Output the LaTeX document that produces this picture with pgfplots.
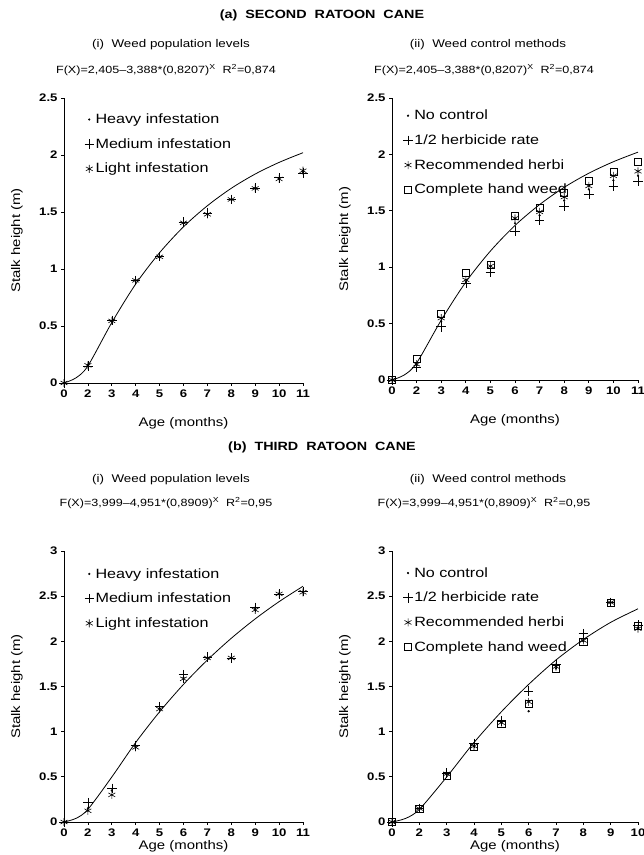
\documentclass[border=0pt]{standalone}
\usepackage{pgfplots}
\pgfplotsset{compat=1.18}
\usepackage{fontspec}
\setmainfont{Liberation Sans}[FakeStretch=1.2]
\pgfplotsset{
  myax/.style={
    scale only axis,
    axis x line*=bottom, axis y line*=left,
    axis line style={black, line width=0.8pt},
    xmin=0, xtick={0,...,10},
    tick align=outside, major tick length=3pt,
    tick style={black, line width=0.7pt},
    ticklabel style={font=\fontsize{11}{12}\selectfont\bfseries},
    /pgf/number format/assume math mode=true,
    xlabel={Age (months)}, ylabel={Stalk height (m)},
    label style={font=\fontsize{12.5}{13}\selectfont},
    legend style={draw=none, fill=none, anchor=north west,
      font=\fontsize{13.5}{13.5}\selectfont, row sep=13.5pt, inner sep=0pt,
      nodes={inner ysep=0pt, inner xsep=1.5pt}},
    legend cell align=left,
    clip=false,
  },
  lefta/.style={ylabel style={at={(axis description cs:-0.197,0.5)}, anchor=center}},
  righta/.style={ylabel style={at={(axis description cs:-0.191,0.5)}, anchor=center}},
  dotm/.style={only marks, mark=*, mark size=0.9pt, black},
  plusm/.style={only marks, mark=+, mark size=4.8pt, black, mark options={line width=0.6pt}},
  astm/.style={only marks, mark=asterisk, mark size=4pt, black, mark options={line width=0.6pt}},
  sqm/.style={only marks, mark=square, mark size=3.6pt, black, mark options={line width=0.6pt}},
  fitc/.style={smooth, black, line width=0.8pt, no marks, forget plot},
}
\begin{document}
\begin{tikzpicture}
\useasboundingbox (0,0) rectangle (644bp,855bp);
% titles
\node[font=\fontsize{12}{13}\selectfont\bfseries] at (322bp,840bp) {(a)\ \ SECOND\ \ RATOON\ \ CANE};
\node[font=\fontsize{12}{13}\selectfont\bfseries] at (322bp,408bp) {(b)\ \ THIRD\ \ RATOON\ \ CANE};
\node[font=\fontsize{11.2}{12}\selectfont] at (171bp,810bp) {(i)\ \ Weed population levels};
\node[font=\fontsize{11.2}{12}\selectfont] at (488bp,810bp) {(ii)\ \ Weed control methods};
\node[font=\fontsize{10.5}{11}\selectfont] at (166bp,785bp) {F(X)=2,405--3,388*(0,8207)\textsuperscript{X}\ \ R\textsuperscript{2}=0,874};
\node[font=\fontsize{10.5}{11}\selectfont] at (484bp,785bp) {F(X)=2,405--3,388*(0,8207)\textsuperscript{X}\ \ R\textsuperscript{2}=0,874};
\node[font=\fontsize{11.2}{12}\selectfont] at (171bp,375bp) {(i)\ \ Weed population levels};
\node[font=\fontsize{11.2}{12}\selectfont] at (488bp,375bp) {(ii)\ \ Weed control methods};
\node[font=\fontsize{10.5}{11}\selectfont] at (166bp,352bp) {F(X)=3,999--4,951*(0,8909)\textsuperscript{X}\ \ R\textsuperscript{2}=0,95};
\node[font=\fontsize{10.5}{11}\selectfont] at (484bp,352bp) {F(X)=3,999--4,951*(0,8909)\textsuperscript{X}\ \ R\textsuperscript{2}=0,95};

% (a)(i)
\begin{axis}[myax, lefta, at={(64bp,472bp)}, anchor=south west, width=239bp, height=285bp,
  legend style={at={(0.085,0.945)}},
  xlabel style={at={(axis description cs:0.5,0)}, anchor=center, yshift=-40bp},
  xmax=10, xticklabels={0,2,3,4,5,6,7,8,9,10,11},
  ymin=0, ymax=2.5, ytick={0,0.5,1,1.5,2,2.5}, yticklabels={0,0.5,1,1.5,2,2.5}]
\addplot[fitc] coordinates {(0,0)(0.5,0.045)(1,0.15)(2,0.53)(3,0.868)(4,1.143)(5,1.37)(6,1.555)(7,1.708)(8,1.833)(9,1.935)(10,2.02)};
\addplot[dotm] coordinates {(0,0)(1,0.16)(2,0.54)(3,0.90)(4,1.10)(5,1.40)(6,1.48)(7,1.61)(8,1.71)(9,1.79)(10,1.85)};
\addlegendentry{Heavy infestation}
\addplot[plusm] coordinates {(0,0)(1,0.15)(2,0.55)(3,0.90)(4,1.11)(5,1.41)(6,1.49)(7,1.61)(8,1.71)(9,1.80)(10,1.84)};
\addlegendentry{Medium infestation}
\addplot[astm] coordinates {(0,0)(1,0.155)(2,0.545)(3,0.90)(4,1.107)(5,1.405)(6,1.48)(7,1.61)(8,1.707)(9,1.79)(10,1.862)};
\addlegendentry{Light infestation}
\end{axis}

% (a)(ii)
\begin{axis}[myax, righta, at={(392bp,475bp)}, anchor=south west, width=246bp, height=282bp,
  legend style={at={(0.045,0.958)}},
  xlabel style={at={(axis description cs:0.5,0)}, anchor=center, yshift=-40bp},
  xmax=10, xticklabels={0,2,3,4,5,6,7,8,9,10,11},
  ymin=0, ymax=2.5, ytick={0,0.5,1,1.5,2,2.5}, yticklabels={0,0.5,1,1.5,2,2.5}]
\addplot[fitc] coordinates {(0,0)(0.5,0.045)(1,0.15)(2,0.53)(3,0.868)(4,1.143)(5,1.37)(6,1.555)(7,1.708)(8,1.833)(9,1.935)(10,2.02)};
\addplot[dotm] coordinates {(0,0)(1,0.13)(2,0.52)(3,0.87)(4,0.99)(5,1.39)(6,1.46)(7,1.59)(8,1.69)(9,1.77)(10,1.81)};
\addlegendentry{No control}
\addplot[plusm] coordinates {(0,0)(1,0.112)(2,0.472)(3,0.855)(4,0.953)(5,1.32)(6,1.416)(7,1.537)(8,1.646)(9,1.72)(10,1.764)};
\addlegendentry{1/2 herbicide rate}
\addplot[astm] coordinates {(0,0)(1,0.14)(2,0.549)(3,0.888)(4,1.01)(5,1.434)(6,1.49)(7,1.622)(8,1.72)(9,1.81)(10,1.85)};
\addlegendentry{Recommended herbi}
\addplot[sqm] coordinates {(0,0)(1,0.186)(2,0.59)(3,0.947)(4,1.02)(5,1.454)(6,1.528)(7,1.66)(8,1.764)(9,1.844)(10,1.932)};
\addlegendentry{Complete hand weed}
\end{axis}

% (b)(i)
\begin{axis}[myax, lefta, at={(64bp,33bp)}, anchor=south west, width=239bp, height=271bp,
  legend style={at={(0.085,0.937)}},
  xlabel style={at={(axis description cs:0.5,0)}, anchor=center, yshift=-24bp},
  xmax=10, xticklabels={0,2,3,4,5,6,7,8,9,10,11},
  ymin=0, ymax=3, ytick={0,0.5,1,1.5,2,2.5,3}, yticklabels={0,0.5,1,1.5,2,2.5,3}]
\addplot[fitc] coordinates {(0,0)(0.5,0.04)(1,0.14)(2,0.498)(3,0.88)(4,1.22)(5,1.5235)(6,1.7935)(7,2.034)(8,2.2485)(9,2.4395)(10,2.6096)};
\addplot[dotm] coordinates {(0,0)(1,0.15)(2,0.35)(3,0.84)(4,1.26)(5,1.60)(6,1.82)(7,1.82)(8,2.36)(9,2.53)(10,2.55)};
\addlegendentry{Heavy infestation}
\addplot[plusm] coordinates {(0,0)(1,0.213)(2,0.372)(3,0.844)(4,1.277)(5,1.631)(6,1.826)(7,1.816)(8,2.376)(9,2.525)(10,2.553)};
\addlegendentry{Medium infestation}
\addplot[astm] coordinates {(0,0)(1,0.124)(2,0.30)(3,0.826)(4,1.25)(5,1.585)(6,1.816)(7,1.816)(8,2.348)(9,2.525)(10,2.543)};
\addlegendentry{Light infestation}
\end{axis}

% (b)(ii)
\begin{axis}[myax, righta, at={(392bp,33bp)}, anchor=south west, width=246bp, height=271bp,
  legend style={at={(0.045,0.94)}},
  xlabel style={at={(axis description cs:0.5,0)}, anchor=center, yshift=-24bp},
  xmax=9, xtick={0,...,9}, xticklabels={0,2,3,4,5,6,7,8,9,10},
  ymin=0, ymax=3, ytick={0,0.5,1,1.5,2,2.5,3}, yticklabels={0,0.5,1,1.5,2,2.5,3}]
\addplot[fitc] coordinates {(0,0)(0.5,0.04)(1,0.14)(2,0.498)(3,0.88)(4,1.22)(5,1.5235)(6,1.7935)(7,2.02)(8,2.21)(9,2.36)};
\addplot[dotm] coordinates {(0,0)(1,0.15)(2,0.53)(3,0.84)(4,1.10)(5,1.226)(6,1.70)(7,2.00)(8,2.43)(9,2.15)};
\addlegendentry{No control}
\addplot[plusm] coordinates {(0,0)(1,0.15)(2,0.54)(3,0.87)(4,1.12)(5,1.45)(6,1.75)(7,2.085)(8,2.43)(9,2.18)};
\addlegendentry{1/2 herbicide rate}
\addplot[astm] coordinates {(0,0)(1,0.15)(2,0.533)(3,0.84)(4,1.10)(5,1.33)(6,1.72)(7,2.01)(8,2.43)(9,2.14)};
\addlegendentry{Recommended herbi}
\addplot[sqm] coordinates {(0,0)(1,0.142)(2,0.515)(3,0.828)(4,1.083)(5,1.307)(6,1.694)(7,1.996)(8,2.426)(9,2.174)};
\addlegendentry{Complete hand weed}
\end{axis}
\end{tikzpicture}
\end{document}
